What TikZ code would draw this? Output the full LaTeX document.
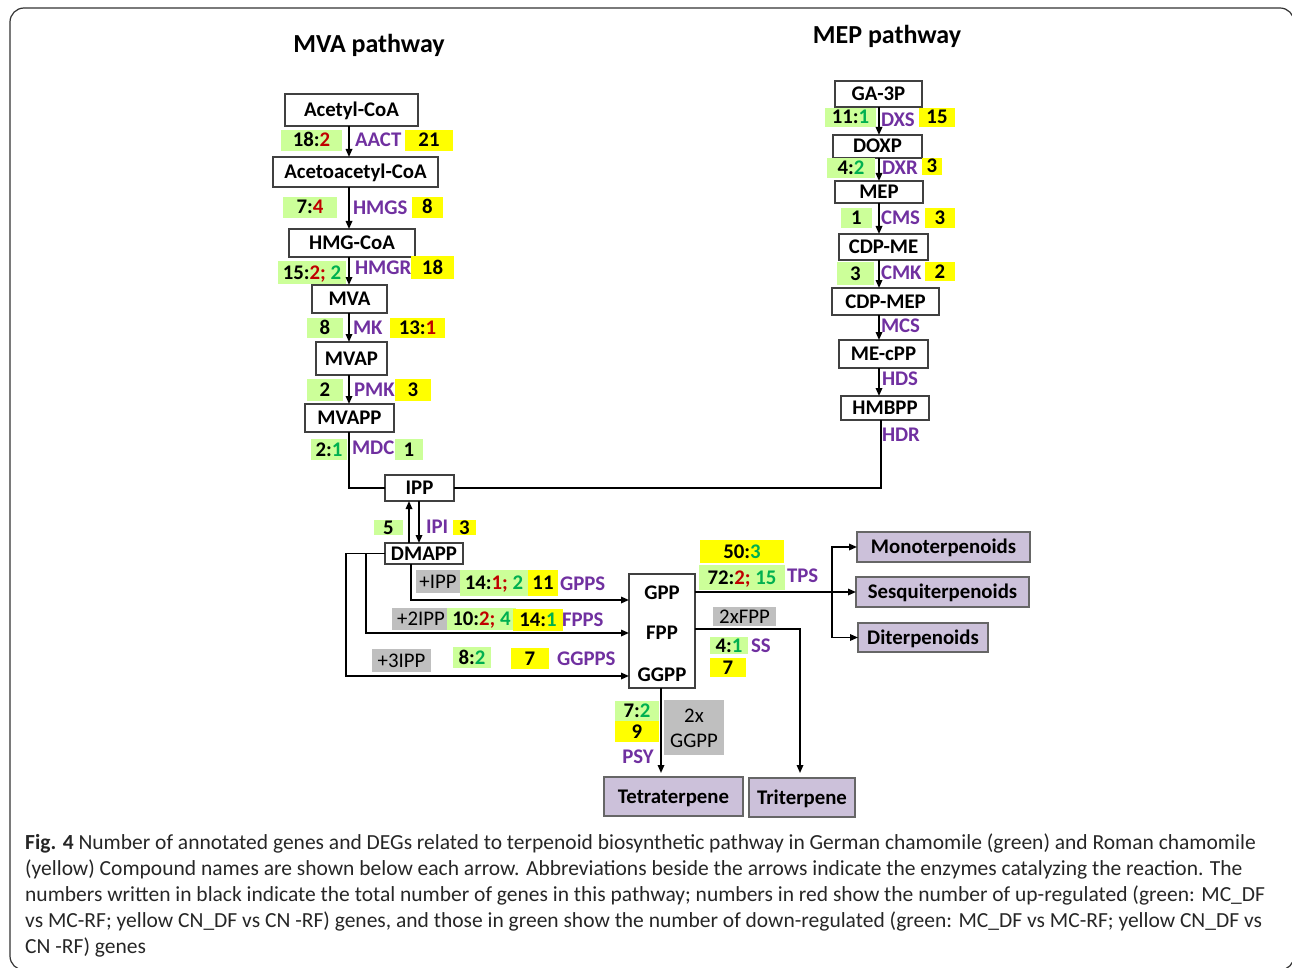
\documentclass[tikz,border=0pt]{standalone}
\usepackage{fontspec}
\setmainfont{Carlito}
\usetikzlibrary{arrows.meta,calc}
\definecolor{lg}{RGB}{204,255,153}
\definecolor{yl}{RGB}{255,255,0}
\definecolor{gy}{RGB}{191,191,191}
\definecolor{pu}{RGB}{112,48,160}
\definecolor{rd}{RGB}{192,0,0}
\definecolor{gn}{RGB}{0,176,80}
\definecolor{lav}{RGB}{204,193,218}
\newcommand\R[1]{\textcolor{rd}{#1}}
\newcommand\G[1]{\textcolor{gn}{#1}}
\newcommand\fs{\fontsize{20.8}{24}\selectfont}
\newcommand\bx[7]{\node[#1, minimum width={(#5)-(#3)}, minimum height={(#6)-(#4)}] (#2) at ({((#3)+(#5))/2},{((#4)+(#6))/2}) {#7};}
\tikzset{
 base/.style={inner sep=0pt, outer sep=0pt, font=\fs\bfseries, text height=13pt, text depth=0pt},
 cpd/.style={base, draw=black!75, line width=1.1pt, fill=white},
 prod/.style={base, draw=black!60, line width=1.3pt, fill=lav},
 gb/.style={base, fill=lg},
 yb/.style={base, fill=yl},
 gr/.style={base, fill=gy, font=\fs},
 enz/.style={base, text=pu, anchor=west},
 conn/.style={line width=1.6pt},
 arr/.style={conn, -{Triangle[length=8pt,width=6.5pt]}},
 capline/.style={anchor=base west, inner sep=0pt, font=\fontsize{21.5}{26}\selectfont, text=black!85}
}
\begin{document}
\begin{tikzpicture}[x=1pt,y=-1pt]
\useasboundingbox (0,0) rectangle (1292,968);
\draw[line width=1.2pt, black!80, rounded corners=14pt] (10,8) rectangle (1294,970);
% titles
\node[font=\fontsize{26}{30}\selectfont\bfseries] (t1) at (369,45) {MVA pathway};
\node[font=\fontsize{26}{30}\selectfont\bfseries] (t2) at (887,36) {MEP pathway};
% MVA compounds
\bx{cpd}{acetyl}{285}{94}{418}{126}{Acetyl-CoA}
\bx{cpd}{acetoacetyl}{273}{157}{438}{187}{Acetoacetyl-CoA}
\bx{cpd}{hmgcoa}{289}{229}{415}{257}{HMG-CoA}
\bx{cpd}{mva}{312}{285}{387}{313}{MVA}
\bx{cpd}{mvap}{316}{342}{387}{375}{MVAP}
\bx{cpd}{mvapp}{305}{404}{394}{432}{MVAPP}
\bx{cpd}{ipp}{385}{475}{454}{501}{IPP}
\bx{cpd}{dmapp}{385}{543}{463}{564}{DMAPP}
% MVA labels
\bx{gb}{l1}{281}{130}{342}{151}{18:\R{2}}
\node[enz] (e1) at (355,140) {AACT};
\bx{yb}{y1}{405}{130}{453}{151}{21}
\bx{gb}{l2}{283}{197}{337}{218}{7:\R{4}}
\node[enz] (e2) at (353,208) {HMGS};
\bx{yb}{y2}{412}{197}{443}{218}{8}
\bx{gb}{l3}{278}{261}{346}{284}{15:\R{2; }\G{2}}
\node[enz] (e3) at (355,268) {HMGR};
\bx{yb}{y3}{411}{256}{454}{279}{18}
\bx{gb}{l4}{307}{318}{343}{338}{8}
\node[enz] (e4) at (353,328) {MK};
\bx{yb}{y4}{390}{318}{445}{338}{13:\R{1}}
\bx{gb}{l5}{307}{379}{343}{401}{2}
\node[enz] (e5) at (354,390) {PMK};
\bx{yb}{y5}{395}{379}{431}{401}{3}
\bx{gb}{l6}{311}{439}{347}{460}{2:\G{1}}
\node[enz] (e6) at (352,448) {MDC};
\bx{gb}{l7}{395}{439}{423}{460}{1}
% IPP / DMAPP labels
\bx{gb}{l8}{374}{520}{403}{535}{5}
\node[enz] (e7) at (426,527) {IPI};
\bx{yb}{y8}{453}{520}{476}{535}{3}
\bx{gr}{g1}{416}{570}{460}{593}{+IPP}
\bx{gb}{l9}{460}{570}{528}{596}{14:\R{1; }\G{2}}
\bx{yb}{y9}{528}{570}{558}{596}{11}
\node[enz] (e8) at (560,584) {GPPS};
\bx{gr}{g2}{392}{608}{450}{630}{+2IPP}
\bx{gb}{l10}{447}{608}{516}{630}{10:\R{2; }\G{4}}
\bx{yb}{y10}{513}{609}{563}{631}{14:\G{1}}
\node[enz] (e9) at (562,620) {FPPS};
\bx{gr}{g3}{372}{649}{431}{672}{+3IPP}
\bx{gb}{l11}{453}{647}{491}{668}{8:\G{2}}
\bx{yb}{y11}{511}{648}{549}{669}{7}
\node[enz] (e10) at (557,659) {GGPPS};
% prenyl box
\bx{cpd}{big}{629}{574}{695}{688}{}
\node[base] (gpp) at (662,593) {GPP};
\node[base] (fpp) at (662,633) {FPP};
\node[base] (ggpp) at (662,675) {GGPP};
% right labels
\bx{yb}{y12}{700}{540}{784}{563}{50:\G{3}}
\bx{gb}{l12}{699}{565}{785}{590}{72:\R{2; }\G{15}}
\node[enz] (e11) at (787,576) {TPS};
\bx{gr}{g5}{713}{607}{776}{626}{2xFPP}
\bx{gb}{l13}{710}{637}{748}{654}{4:\G{1}}
\node[enz] (e12) at (751,646) {SS};
\bx{yb}{y13}{710}{658}{746}{677}{7}
\bx{gb}{l14}{615}{701}{659}{721}{7:\G{2}}
\bx{yb}{y14}{615}{721}{659}{742}{9}
\node[base, text=pu] (e13) at (638,757) {PSY};
\bx{gr}{g4}{664}{700}{724}{755}{}
\node[base, font=\fs] (g4a) at (694,716) {2x};
\node[base, font=\fs] (g4b) at (694,741) {GGPP};
% products
\bx{prod}{mono}{857}{532}{1030}{562}{Monoterpenoids}
\bx{prod}{sesq}{856}{577}{1029}{607}{Sesquiterpenoids}
\bx{prod}{di}{858}{623}{988}{652}{Diterpenoids}
\bx{prod}{tet}{604}{777}{743}{816}{Tetraterpene}
\bx{prod}{tri}{749}{778}{855}{817}{Triterpene}
% MEP compounds
\bx{cpd}{ga}{835}{81}{922}{107}{GA-3P}
\bx{cpd}{doxp}{833}{135}{922}{158}{DOXP}
\bx{cpd}{mep}{835}{181}{923}{203}{MEP}
\bx{cpd}{cdpme}{839}{234}{928}{260}{CDP-ME}
\bx{cpd}{cdpmep}{832}{288}{939}{315}{CDP-MEP}
\bx{cpd}{mecpp}{839}{340}{928}{368}{ME-cPP}
\bx{cpd}{hmbpp}{841}{396}{929}{420}{HMBPP}
% MEP labels
\bx{gb}{m1}{825}{108}{876}{127}{11:\G{1}}
\node[enz] (f1) at (881,120) {DXS};
\bx{yb}{n1}{919}{108}{955}{127}{15}
\bx{gb}{m2}{827}{158}{875}{178}{4:\G{2}}
\node[enz] (f2) at (882,168) {DXR};
\bx{yb}{n2}{922}{158}{942}{175}{3}
\bx{gb}{m3}{841}{208}{872}{228}{1}
\node[enz] (f3) at (881,218) {CMS};
\bx{yb}{n3}{925}{208}{955}{228}{3}
\bx{gb}{m4}{837}{262}{874}{285}{3}
\node[enz] (f4) at (881,273) {CMK};
\bx{yb}{n4}{925}{262}{955}{281}{2}
\node[enz] (f5) at (881,326) {MCS};
\node[enz] (f6) at (882,379) {HDS};
\node[enz] (f7) at (882,435) {HDR};
% helper coordinates
\coordinate (mx) at (349,0);
\coordinate (px) at (879,0);
\coordinate (hx) at (881,0);
\coordinate (ux) at (409,0);
\coordinate (dx) at (419,0);
\coordinate (gx) at (411,0);
\coordinate (ix) at (366,0);
\coordinate (ox) at (346,0);
\coordinate (r1) at (0,600);
\coordinate (r2) at (0,633);
\coordinate (r3) at (0,676);
\coordinate (fr) at (0,629);
\coordinate (jx) at (832,0);
\coordinate (tx) at (800,0);
\coordinate (kx) at (661,0);
% MVA connectors
\draw[arr] (acetyl.south -| mx) -- (acetoacetyl.north -| mx);
\draw[arr] (acetoacetyl.south -| mx) -- (hmgcoa.north -| mx);
\draw[arr] (hmgcoa.south -| mx) -- (mva.north -| mx);
\draw[arr] (mva.south -| mx) -- (mvap.north -| mx);
\draw[arr] (mvap.south -| mx) -- (mvapp.north -| mx);
\draw[conn] (mvapp.south -| mx) |- (ipp.west);
% MEP connectors
\draw[arr] (ga.south -| px) -- (doxp.north -| px);
\draw[arr] (doxp.south -| px) -- (mep.north -| px);
\draw[arr] (mep.south -| px) -- (cdpme.north -| px);
\draw[arr] (cdpme.south -| px) -- (cdpmep.north -| px);
\draw[arr] (cdpmep.south -| px) -- (mecpp.north -| px);
\draw[arr] (mecpp.south -| px) -- (hmbpp.north -| px);
\draw[conn] (hmbpp.south -| hx) |- (ipp.east);
% IPP <-> DMAPP
\draw[arr] (dmapp.north -| ux) -- (ipp.south -| ux);
\draw[arr] (ipp.south -| dx) -- (dmapp.north -| dx);
% DMAPP -> prenyl
\draw[arr] (dmapp.south -| gx) |- (big.west |- r1);
\draw[arr] (dmapp.west) -| (ox |- r3) -- (big.west |- r3);
\draw[arr] (ix |- dmapp.west) -- (ix |- r2) -- (big.west |- r2);
% GPP -> terpenoids
\draw[arr] (big.east |- sesq.west) -- (sesq.west);
\draw[arr] (jx |- sesq.west) |- (mono.west);
\draw[arr] (jx |- sesq.west) |- (di.west);
% FPP -> triterpene, GGPP -> tetraterpene
\draw[arr, shorten >=5pt] (big.east |- fr) -| (tx |- tri.north);
\draw[arr, shorten >=4pt] (big.south -| kx) -- (kx |- tet.north);
% caption
\node[capline] (c1) at (25,849) {\textbf{Fig. 4} Number of annotated genes and DEGs related to terpenoid biosynthetic pathway in German chamomile (green) and Roman chamomile};
\node[capline] (c2) at (25,875) {(yellow) Compound names are shown below each arrow. Abbreviations beside the arrows indicate the enzymes catalyzing the reaction. The};
\node[capline] (c3) at (25,901) {numbers written in black indicate the total number of genes in this pathway; numbers in red show the number of up-regulated (green: MC\_DF};
\node[capline] (c4) at (25,927) {vs MC-RF; yellow CN\_DF vs CN -RF) genes, and those in green show the number of down-regulated (green: MC\_DF vs MC-RF; yellow CN\_DF vs};
\node[capline] (c5) at (25,953) {CN -RF) genes};
\end{tikzpicture}
\end{document}
